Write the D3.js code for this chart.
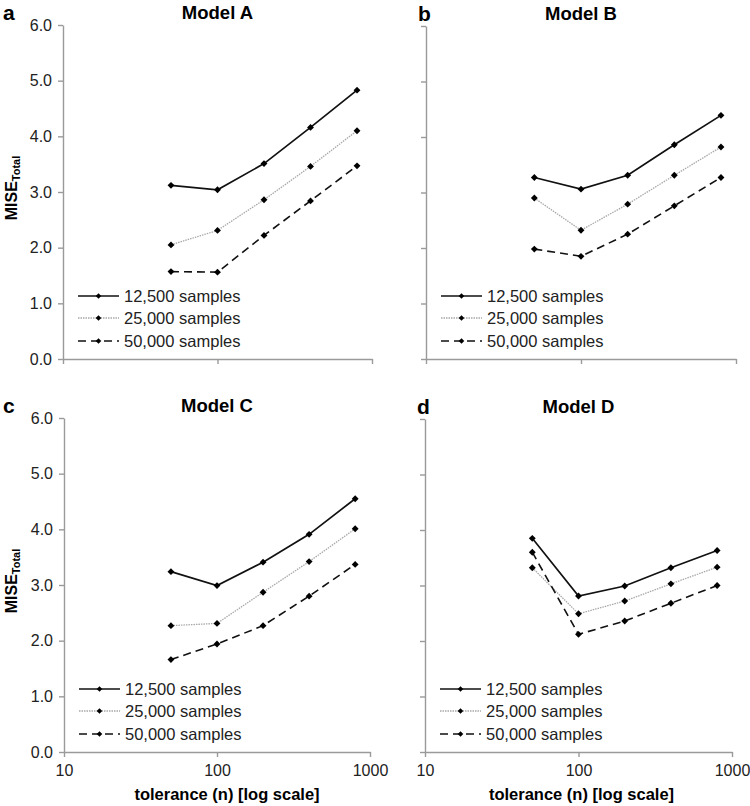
<!DOCTYPE html>
<html>
<head>
<meta charset="utf-8">
<script src="https://cdn.jsdelivr.net/npm/d3@7"></script>
<style>
  body { margin: 0; background: #fff; }
  svg { display: block; font-family: "Liberation Sans", Arial, sans-serif; }
</style>
</head>
<body>
<svg id="chart" width="750" height="806"></svg>
<script>
// ---- data ----
const tolerances = [50, 100, 200, 400, 800];
const seriesNames = ["12,500 samples", "25,000 samples", "50,000 samples"];
const yTicks = [0, 1, 2, 3, 4, 5, 6];
const xTicks = [10, 100, 1000];

const modelA_12500 = [3.12, 3.04, 3.51, 4.16, 4.83];
const modelA_25000 = [2.05, 2.31, 2.86, 3.46, 4.10];
const modelA_50000 = [1.57, 1.56, 2.22, 2.84, 3.47];

const modelB_12500 = [3.27, 3.06, 3.31, 3.86, 4.39];
const modelB_25000 = [2.90, 2.32, 2.79, 3.31, 3.82];
const modelB_50000 = [1.98, 1.85, 2.25, 2.76, 3.27];

const modelC_12500 = [3.24, 2.99, 3.41, 3.91, 4.55];
const modelC_25000 = [2.27, 2.31, 2.87, 3.42, 4.01];
const modelC_50000 = [1.66, 1.94, 2.27, 2.80, 3.37];

const modelD_12500 = [3.85, 2.81, 2.99, 3.32, 3.63];
const modelD_25000 = [3.32, 2.49, 2.72, 3.03, 3.33];
const modelD_50000 = [3.60, 2.12, 2.36, 2.68, 3.00];

const panelLetters = ["a", "b", "c", "d"];
const panelTitles = ["Model A", "Model B", "Model C", "Model D"];
const panelData = [
  [modelA_12500, modelA_25000, modelA_50000],
  [modelB_12500, modelB_25000, modelB_50000],
  [modelC_12500, modelC_25000, modelC_50000],
  [modelD_12500, modelD_25000, modelD_50000]
];

// ---- layout ----
const layout = [
  { x0: 63,  x1: 372, y0: 25,  y1: 359, yLabels: true,  xLabels: false, titleDx: 0 },
  { x0: 426, x1: 736, y0: 26,  y1: 359, yLabels: false, xLabels: false, titleDx: 0 },
  { x0: 64,  x1: 370, y0: 418, y1: 752, yLabels: true,  xLabels: true,  titleDx: 10 },
  { x0: 425, x1: 732, y0: 419, y1: 752, yLabels: false, xLabels: true,  titleDx: 3 }
];

const lineStyles = [
  { stroke: "#111", width: 1.7, dash: null },
  { stroke: "#a8a8a8", width: 1.3, dash: "1.5,1" },
  { stroke: "#111", width: 1.6, dash: "8,5" }
];

const svg = d3.select("#chart");
const axisColor = "#9a9a9a";
const textColor = "#222";
const marker = d3.symbol().type(d3.symbolDiamond2).size(30);
const legMarker = d3.symbol().type(d3.symbolDiamond2).size(20);

panelData.forEach((seriesList, i) => {
  const L = layout[i];
  const x = d3.scaleLog().domain([10, 1000]).range([L.x0, L.x1]);
  const y = d3.scaleLinear().domain([0, 6]).range([L.y1, L.y0]);
  const g = svg.append("g");

  // y axis
  const yAxis = d3.axisLeft(y).tickValues(yTicks).tickSize(5).tickSizeOuter(0).tickPadding(6)
    .tickFormat(L.yLabels ? d3.format(".1f") : () => "");
  const ya = g.append("g").attr("transform", `translate(${L.x0},0)`).call(yAxis);

  // x axis
  const xAxis = d3.axisBottom(x).tickValues(xTicks).tickSize(5).tickSizeOuter(0).tickPadding(8)
    .tickFormat(L.xLabels ? d3.format("d") : () => "");
  const xa = g.append("g").attr("transform", `translate(0,${L.y1})`).call(xAxis);

  [ya, xa].forEach(a => {
    a.select(".domain").attr("stroke", axisColor).attr("stroke-width", 1.4);
    a.selectAll(".tick line").attr("stroke", axisColor).attr("stroke-width", 1.4);
    a.selectAll(".tick text").attr("fill", textColor)
      .style("font-size", "16px").style("font-family", '"Liberation Sans", Arial, sans-serif');
  });

  // series lines
  seriesList.forEach((vals, s) => {
    const st = lineStyles[s];
    const pts = tolerances.map((t, k) => [t, vals[k]]);
    const line = d3.line().x(d => x(d[0])).y(d => y(d[1]));
    g.append("path").datum(pts)
      .attr("d", line)
      .attr("fill", "none")
      .attr("stroke", st.stroke)
      .attr("stroke-width", st.width)
      .attr("stroke-dasharray", st.dash);
    g.selectAll(null).data(pts).enter().append("path")
      .attr("d", marker)
      .attr("transform", d => `translate(${x(d[0])},${y(d[1])})`)
      .attr("fill", "#000");
  });

  // legend
  const legY = [L.y1 - 63, L.y1 - 41, L.y1 - 18];
  seriesNames.forEach((name, s) => {
    const st = lineStyles[s];
    const lx0 = L.x0 + 15, lx1 = L.x0 + 56;
    g.append("line").attr("x1", lx0).attr("x2", lx1).attr("y1", legY[s]).attr("y2", legY[s])
      .attr("stroke", st.stroke).attr("stroke-width", st.width)
      .attr("stroke-dasharray", st.dash);
    g.append("path").attr("d", legMarker)
      .attr("transform", `translate(${(lx0 + lx1) / 2},${legY[s]})`).attr("fill", "#000");
    g.append("text").attr("x", L.x0 + 61).attr("y", legY[s]).attr("dy", "0.36em")
      .attr("fill", textColor).style("font-size", "16.5px").text(name);
  });

  // title and panel letter
  g.append("text").attr("x", (L.x0 + L.x1) / 2).attr("y", L.y0 - 6)
    .attr("text-anchor", "middle").style("font-size", "18.5px").style("font-weight", "bold")
    .attr("fill", "#000").text(panelTitles[i]);
  g.append("text").attr("x", i % 2 === 0 ? 3 : L.x0 - 8).attr("y", L.y0 - 5)
    .style("font-size", "21px").style("font-weight", "bold")
    .attr("fill", "#000").text(panelLetters[i]);

  // y axis title
  if (L.yLabels) {
    const t = g.append("text")
      .attr("transform", `translate(17,${(L.y0 + L.y1) / 2 - 4}) rotate(-90)`)
      .attr("text-anchor", "middle").attr("fill", "#000")
      .style("font-size", "16px").style("font-weight", "bold");
    t.append("tspan").text("MISE");
    t.append("tspan").attr("dy", "0.3em").style("font-size", "11px").text("Total");
  }

  // x axis title
  if (L.xLabels) {
    g.append("text").attr("x", (L.x0 + L.x1) / 2 + L.titleDx).attr("y", L.y1 + 48)
      .attr("text-anchor", "middle").attr("fill", "#000")
      .style("font-size", "16.5px").style("font-weight", "bold")
      .text("tolerance (n) [log scale]");
  }
});
</script>
</body>
</html>
